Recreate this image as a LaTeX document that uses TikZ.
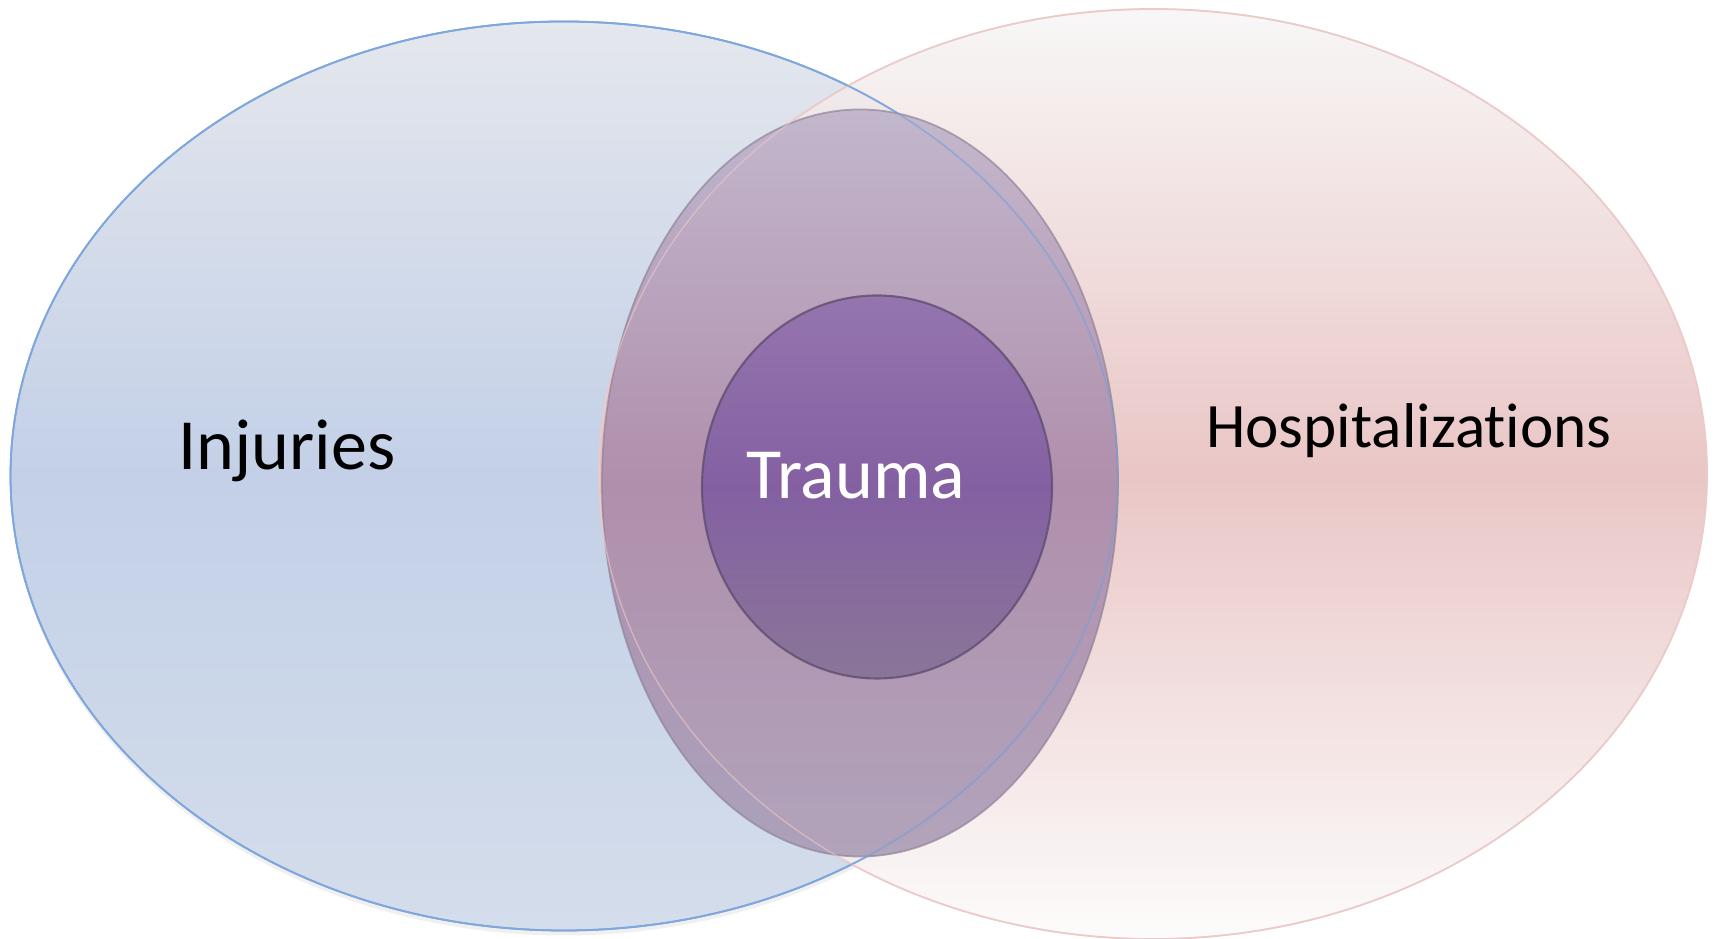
\documentclass[tikz,border=0pt]{standalone}
\usepackage{fontspec}
\setmainfont{Carlito}[Ligatures=NoCommon]
\usetikzlibrary{shapes.geometric,shadows}
\definecolor{injline}{HTML}{7FA7DD}
\definecolor{injtop}{HTML}{E4E7ED}
\definecolor{injmid}{HTML}{C3D0E7}
\definecolor{injbot}{HTML}{D4DDEB}
\definecolor{hospline}{HTML}{EBCACA}
\definecolor{hosptop}{HTML}{F7F5F5}
\definecolor{hospmid}{HTML}{E6BCBC}
\definecolor{hospbot}{HTML}{FCFBFB}
\definecolor{midline}{HTML}{8F8498}
\definecolor{midtop}{HTML}{BBAFC8}
\definecolor{midmid}{HTML}{A887A9}
\definecolor{midbot}{HTML}{A697B2}
\definecolor{coreline}{HTML}{5F4D70}
\definecolor{coretop}{HTML}{9575AE}
\definecolor{coremid}{HTML}{8460A2}
\definecolor{corebot}{HTML}{8A7698}
\tikzset{
  blob/.style={ellipse, inner sep=0pt, line width=0.5pt},
  label/.style={text=black, font=\fontsize{20.5}{24}\selectfont}
}
\begin{document}
\begin{tikzpicture}
  \useasboundingbox (0,0) rectangle (17.15,9.39);
  % Outer sets
  \node (injuries) [blob, draw=injline, minimum width=11.07cm, minimum height=9.09cm,
    top color=injtop, bottom color=injbot, middle color=injmid,
    drop shadow={opacity=0.12, shadow xshift=0cm, shadow yshift=-0.05cm}] at (5.64, 4.63) {};
  \node (hosp) [blob, draw=hospline, minimum width=11.08cm, minimum height=9.30cm,
    top color=hosptop, bottom color=hospbot, middle color=hospmid,
    fill opacity=0.85] at (11.53, 4.65) {};
  \draw[injline, line width=0.5pt] (injuries.center) ellipse [x radius=5.535, y radius=4.545];
  % Overlap
  \node (overlap) [blob, draw=midline, minimum width=5.16cm, minimum height=7.47cm,
    top color=midtop, bottom color=midbot, middle color=midmid,
    fill opacity=0.85, draw opacity=0.7] at (8.60, 4.56) {};
  \draw[hospline, line width=0.4pt, opacity=0.6] (hosp.center) ellipse [x radius=5.54, y radius=4.65];
  \draw[injline, line width=0.4pt, opacity=0.6] (injuries.center) ellipse [x radius=5.535, y radius=4.545];
  % Core
  \node (core) [blob, draw=coreline, line width=0.6pt, minimum width=3.50cm, minimum height=3.83cm,
    top color=coretop, bottom color=corebot, middle color=coremid,
    draw opacity=0.8] at (8.77, 4.52) {};
  % Labels
  \node (injT) [label] at (2.87, 4.88) {Injuries};
  \node (hospT) [label, font=\fontsize{18}{22}\selectfont] at (14.09, 5.08) {Hospitalizations};
  \node (coreT) [label, text=white] at (8.56, 4.63) {Trauma};
\end{tikzpicture}
\end{document}
